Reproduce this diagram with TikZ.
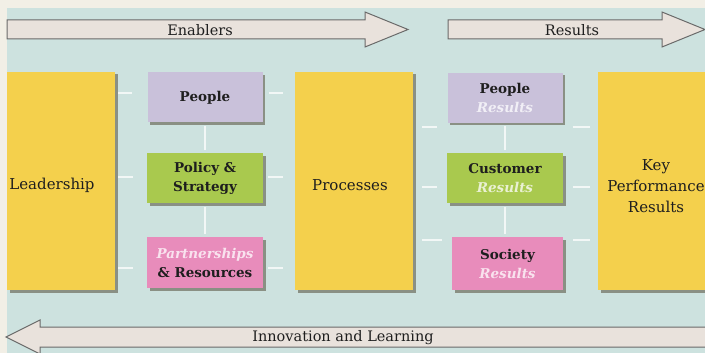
\documentclass[tikz,border=0pt]{standalone}
\usepackage{fontspec}
\setmainfont{DejaVu Serif}
\usetikzlibrary{shadows,calc}
\definecolor{bgc}{HTML}{CDE2DF}
\definecolor{cream}{HTML}{F2EFE6}
\definecolor{yel}{HTML}{F4D04C}
\definecolor{lav}{HTML}{C9C1DA}
\definecolor{grn}{HTML}{A9C94E}
\definecolor{pnk}{HTML}{E88CBB}
\definecolor{arrfill}{HTML}{E9E2DC}
\definecolor{arrline}{HTML}{6A6A6A}
\definecolor{txt}{HTML}{1E1E1E}
\definecolor{shd}{HTML}{5E5A48}
\tikzset{
  shad/.style={drop shadow={shadow xshift=2.5pt, shadow yshift=-2.5pt, fill=shd, opacity=0.6}},
  bigbox/.style={fill=yel, shad, inner sep=0pt},
  smallbox/.style={shad, inner sep=0pt, minimum width=115, minimum height=50, align=center,
     text=txt, font=\fontsize{13.5}{19}\selectfont\bfseries},
  bigtxt/.style={text=txt, font=\fontsize{15}{21}\selectfont, align=center},
  arrtxt/.style={text=txt, font=\fontsize{14.5}{17}\selectfont},
  arrowshape/.style={fill=arrfill, draw=arrline, line width=1pt, line join=miter},
  conn/.style={draw=white, line width=2pt, opacity=0.75}
}
\newcommand{\wtxt}[2]{{\itshape\color{white!75!#1}#2}}
\begin{document}
\begin{tikzpicture}[x=1pt,y=-1pt]
\useasboundingbox (0,0) rectangle (705,353);
\clip (0,0) rectangle (705,353);
\fill[cream] (0,0) rectangle (705,353);
\fill[bgc] (7,8) rectangle (705,353);

% top arrows
\draw[arrowshape] (7,20) -- (365,20) -- (365,12) -- (408,29.5) -- (365,47) -- (365,39) -- (7,39) -- cycle;
\node[arrtxt] (en) at (200,30) {Enablers};
\draw[arrowshape] (448,20) -- (662,20) -- (662,12) -- (705,29.5) -- (662,47) -- (662,39) -- (448,39) -- cycle;
\node[arrtxt] (res) at (572,30) {Results};

% bottom arrow
\draw[arrowshape] (710,327) -- (40,327) -- (40,320) -- (6,337) -- (40,354) -- (40,347) -- (710,347);
\node[arrtxt] (inl) at (343,338) {Innovation and Learning};

% big boxes
\node[bigbox, minimum width=108, minimum height=218] (lead) at (61,181) {};
\node[bigtxt] (leadt) at (52,185) {Leadership};
\node[bigbox, minimum width=118, minimum height=218] (proc) at (354,181) {};
\node[bigtxt] (proct) at (350,185) {Processes};
\node[bigbox, minimum width=116, minimum height=218] (kpr) at (656,181) {};
\node[bigtxt] (kprt) at (656,186) {Key\\Performance\\Results};

% enabler boxes
\node[smallbox, fill=lav] (ppl) at (205,97.5) {People};
\node[smallbox, fill=grn, minimum width=116] (pol) at (205,178) {Policy \&\\Strategy};
\node[smallbox, fill=pnk, minimum width=116, minimum height=51] (par) at (205,262.5) {\wtxt{pnk}{Partnerships}\\\& Resources};

% result boxes
\node[smallbox, fill=lav] (pr) at (505,98) {People\\\wtxt{lav}{Results}};
\node[smallbox, fill=grn, minimum width=116] (cr) at (505,178) {Customer\\\wtxt{grn}{Results}};
\node[smallbox, fill=pnk, minimum width=111, minimum height=53] (sr) at (507.5,263.5) {Society\\\wtxt{pnk}{Results}};

% connectors (faint white links)
\draw[conn, shorten <=3pt, shorten >=15pt] (lead.east |- 0,93) -- (ppl.west |- 0,93);
\draw[conn, shorten <=3pt, shorten >=14pt] (lead.east |- 0,177) -- (pol.west |- 0,177);
\draw[conn, shorten <=3pt, shorten >=14pt] (lead.east |- 0,268) -- (par.west |- 0,268);
\draw[conn, shorten <=6pt, shorten >=12pt] (ppl.east |- 0,93) -- (proc.west |- 0,93);
\draw[conn, shorten <=5pt, shorten >=12pt] (pol.east |- 0,177) -- (proc.west |- 0,177);
\draw[conn, shorten <=5pt, shorten >=12pt] (par.east |- 0,268) -- (proc.west |- 0,268);
\draw[conn, shorten <=3pt, shorten >=3pt] (ppl.south) -- (pol.north);
\draw[conn, shorten <=4pt, shorten >=3pt] (pol.south) -- (par.north);
\draw[conn, shorten <=9pt, shorten >=10pt] (proc.east |- 0,127) -- (pr.west |- 0,127);
\draw[conn, shorten <=9pt, shorten >=10pt] (proc.east |- 0,187) -- (cr.west |- 0,187);
\draw[conn, shorten <=9pt, shorten >=10pt] (proc.east |- 0,240) -- (sr.west |- 0,240);
\draw[conn, shorten <=10pt, shorten >=8pt] (pr.east |- 0,127) -- (kpr.west |- 0,127);
\draw[conn, shorten <=10pt, shorten >=8pt] (cr.east |- 0,187) -- (kpr.west |- 0,187);
\draw[conn, shorten <=10pt, shorten >=8pt] (sr.east |- 0,240) -- (kpr.west |- 0,240);
\draw[conn, shorten <=3pt, shorten >=3pt] (pr.south) -- (cr.north);
\draw[conn, shorten <=4pt, shorten >=3pt] (cr.south) -- (cr.south |- sr.north);
\end{tikzpicture}
\end{document}
